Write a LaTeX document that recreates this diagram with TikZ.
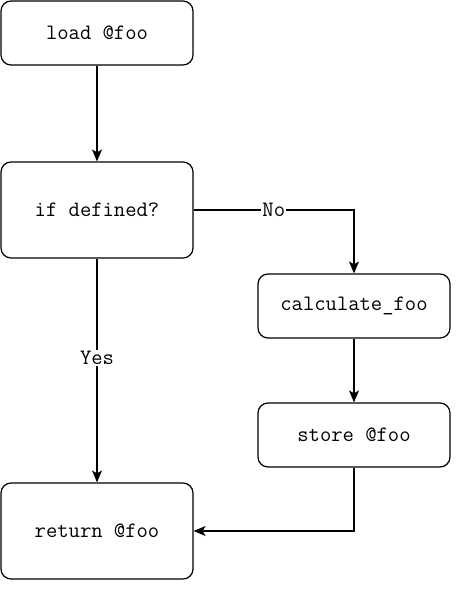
\documentclass[tikz,border=0pt]{standalone}
\usetikzlibrary{arrows.meta}
\begin{document}
\begin{tikzpicture}[x=1pt,y=-1pt,
  box/.style={draw,line width=1.2pt,rounded corners=10pt,inner sep=0pt},
  txt/.style={font=\ttfamily\fontsize{22}{24}\selectfont},
  conn/.style={line width=1.2pt,-{Stealth[length=12pt,width=10pt,inset=3pt]}},
  lbl/.style={txt,fill=white,inner sep=1pt}]
\useasboundingbox (0,0) rectangle (464,600);
\node[box,txt,minimum width=192pt,minimum height=64pt] (load) at (97,33) {load @foo};
\node[box,txt,minimum width=192pt,minimum height=96pt] (if) at (97,210) {if defined?};
\node[box,txt,minimum width=192pt,minimum height=64pt] (calc) at (354,306) {calculate\_foo};
\node[box,txt,minimum width=192pt,minimum height=64pt] (store) at (354,435) {store @foo};
\node[box,txt,minimum width=192pt,minimum height=96pt] (ret) at (97,531) {return @foo};
\draw[conn] (load) -- (if);
\draw[conn] (if.east) -| node[lbl,pos=0.25] {No} (calc.north);
\draw[conn] (if) -- node[lbl,pos=0.445] {Yes} (ret);
\draw[conn] (calc) -- (store);
\draw[conn] (store.south) |- (ret.east);
\end{tikzpicture}
\end{document}
